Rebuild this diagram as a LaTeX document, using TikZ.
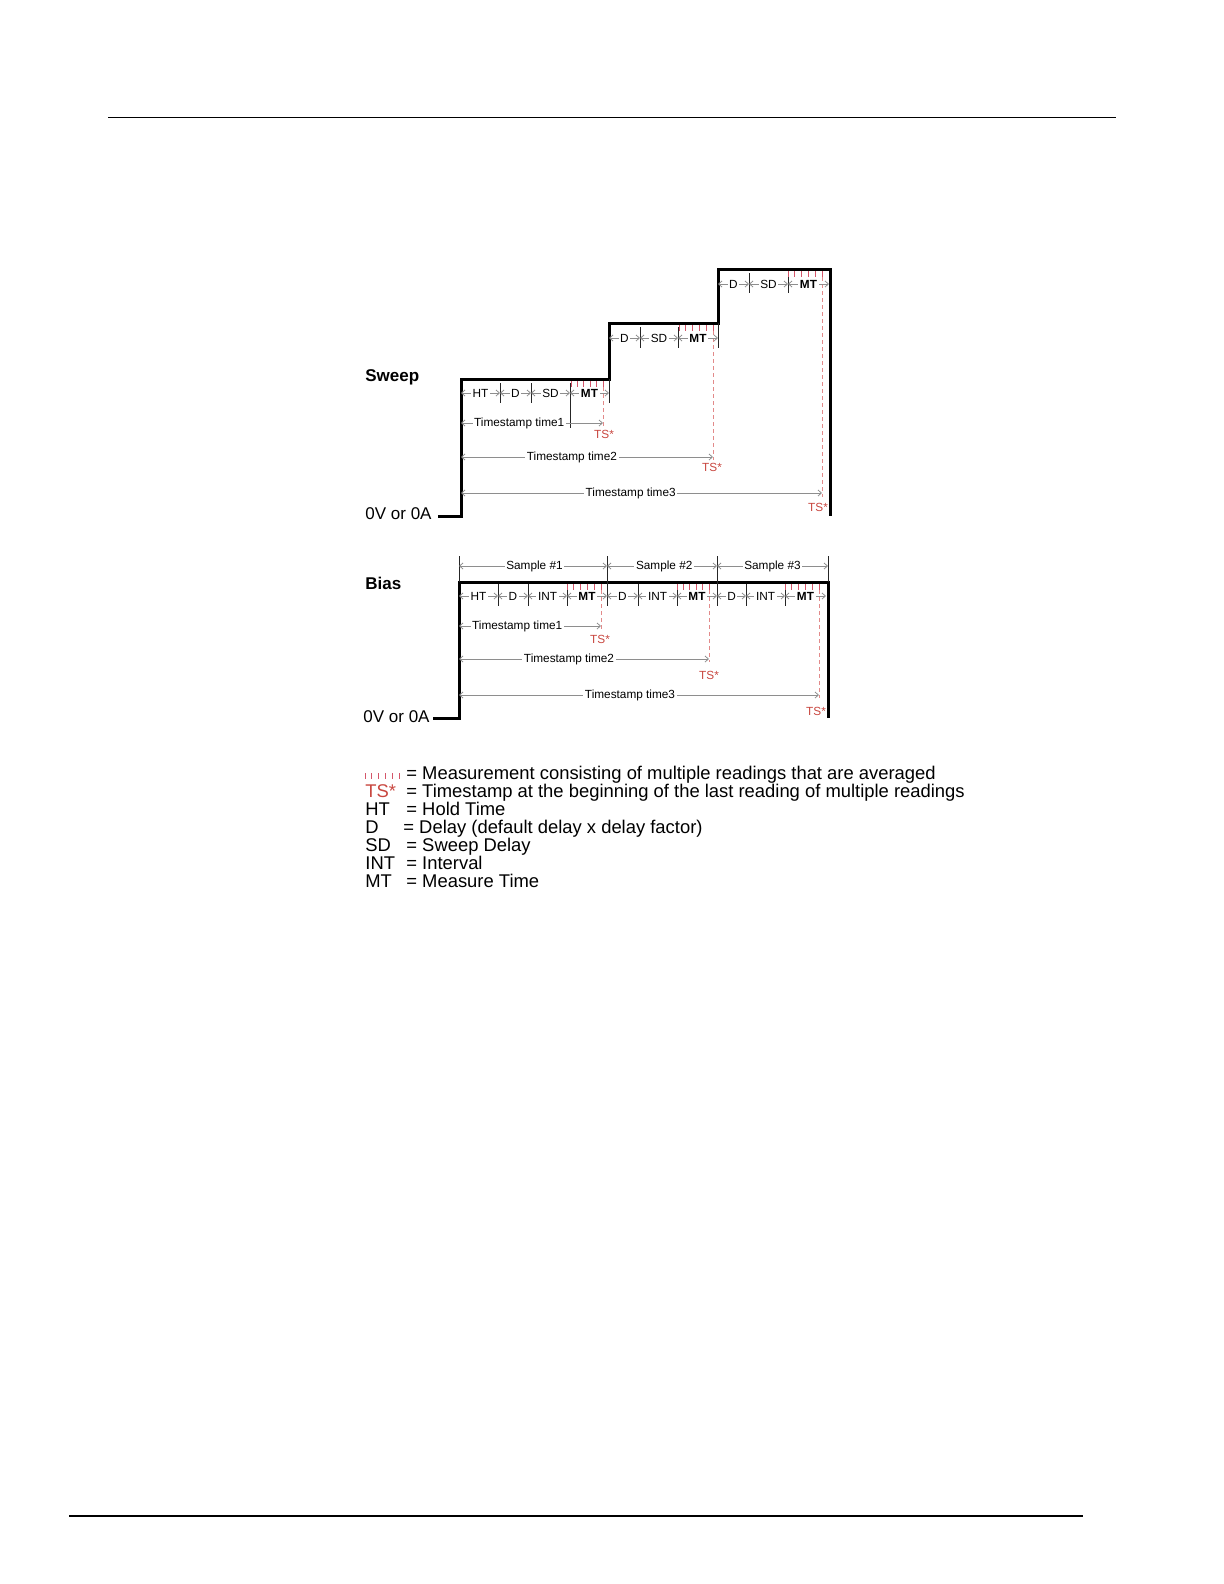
\documentclass[tikz,border=0pt]{standalone}
\usepackage{fontspec}
\setmainfont{Liberation Sans}
\usetikzlibrary{arrows.meta}
\definecolor{cred}{HTML}{C8463F}
\definecolor{cpink}{HTML}{D4566A}
\definecolor{cdash}{HTML}{E28A8A}
\definecolor{cgrey}{HTML}{8E8E8E}
\tikzset{
  every picture/.style={font=\fontsize{5.9}{7}\selectfont},
  stepline/.style={line width=1.5pt, line join=miter},
  tickln/.style={line width=0.45pt, draw=black!85},
  dimarrow/.style={{Straight Barb[length=1.7pt,width=3pt]}-{Straight Barb[length=1.7pt,width=3pt]}, draw=cgrey, line width=0.4pt},
  lbl/.style={fill=white, inner sep=0.8pt},
  mtick/.style={draw=cpink, line width=0.5pt},
  tsline/.style={draw=cdash, dash pattern=on 2pt off 1.5pt, line width=0.4pt},
  tslbl/.style={text=cred, inner sep=0pt},
  head/.style={font=\fontsize{8.5}{10}\selectfont\bfseries, anchor=west, inner sep=0pt},
  zero/.style={font=\fontsize{8.5}{10}\selectfont, anchor=east, inner sep=0pt},
  legtxt/.style={font=\fontsize{9.2}{10}\selectfont, anchor=base west, inner sep=0pt},
}

\begin{document}
\begin{tikzpicture}[x=0.5pt, y=-0.5pt]
  \useasboundingbox (0,0) rectangle (1224,1584);
  \draw[line width=0.5pt] (108,118) -- (1116,118);
  \draw[line width=1pt] (69,1516) -- (1083,1516);

  % sweep
  \node[head] (sweep) at (365,377) {Sweep};
  \node[zero] (zs) at (432,514) {0V or 0A};
  \draw[stepline] (438,516) -- (461,516) -- (461,379) -- (609,379) -- (609,323)
    -- (718,323) -- (718,269) -- (830,269) -- (830,516);
  \draw[tickln] (500,383) -- (500,403) (531,383) -- (531,403) (570,383) -- (570,428)
    (609,379) -- (609,403);
  \draw[tickln] (640,327) -- (640,348) (678,327) -- (678,348) (718,323) -- (718,348);
  \draw[tickln] (749,273) -- (749,293) (788,273) -- (788,293);
  \foreach \i in {0,...,5} {
    \draw[mtick] ({571+\i*6.4},381) -- ++(0,6);
    \draw[mtick] ({679+\i*6.8},325) -- ++(0,6);
    \draw[mtick] ({788+\i*6.8},271) -- ++(0,6);
  }
  \draw[tsline] (603,387) -- (603,426);
  \draw[tsline] (713,331) -- (713,460);
  \draw[tsline] (822,277) -- (822,497);
  \draw[dimarrow] (461,393) -- node[lbl] (ht1) {HT} (500,393);
  \draw[dimarrow] (500,393) -- node[lbl] (d1) {D} (531,393);
  \draw[dimarrow] (531,393) -- node[lbl] (sd1) {SD} (570,393);
  \draw[dimarrow] (570,393) -- node[lbl] (mt1) {\bfseries MT} (609,393);
  \draw[dimarrow] (609,338) -- node[lbl] (d2) {D} (640,338);
  \draw[dimarrow] (640,338) -- node[lbl] (sd2) {SD} (678,338);
  \draw[dimarrow] (678,338) -- node[lbl] (mt2) {\bfseries MT} (718,338);
  \draw[dimarrow] (718,284) -- node[lbl] (d3) {D} (749,284);
  \draw[dimarrow] (749,284) -- node[lbl] (sd3) {SD} (788,284);
  \draw[dimarrow] (788,284) -- node[lbl] (mt3) {\bfseries MT} (829,284);
  \draw[dimarrow] (461,423) -- node[lbl, pos=0.41] (tst1) {Timestamp time1} (603,423);
  \draw[dimarrow] (461,457) -- node[lbl, pos=0.44] (tst2) {Timestamp time2} (713,457);
  \draw[dimarrow] (461,493) -- node[lbl, pos=0.47] (tst3) {Timestamp time3} (822,493);
  \node[tslbl] (ts1) at (604,434) {TS*};
  \node[tslbl] (ts2) at (712,467) {TS*};
  \node[tslbl] (ts3) at (818,507) {TS*};

  % bias
  \node[head] (bias) at (365,583) {Bias};
  \node[zero] (zb) at (430,717) {0V or 0A};
  \draw[stepline] (433,718) -- (459,718) -- (459,582) -- (828,582) -- (828,718);
  \draw[tickln] (459,556) -- (459,582) (607,556) -- (607,606) (717,556) -- (717,606)
    (828,556) -- (828,582);
  \foreach \x in {498,528,567,638,677,746,785}
    \draw[tickln] (\x,584) -- (\x,606);
  \foreach \i in {0,...,5} {
    \draw[mtick] ({567+\i*6.8},584) -- ++(0,6);
    \draw[mtick] ({677+\i*6.4},584) -- ++(0,6);
    \draw[mtick] ({785+\i*6.8},584) -- ++(0,6);
  }
  \draw[tsline] (601,590) -- (601,629);
  \draw[tsline] (709,590) -- (709,662);
  \draw[tsline] (819,590) -- (819,698);
  \draw[dimarrow] (459,566) -- node[lbl, pos=0.51] (s1) {Sample \#1} (607,566);
  \draw[dimarrow] (607,566) -- node[lbl, pos=0.52] (s2) {Sample \#2} (717,566);
  \draw[dimarrow] (717,566) -- node[lbl] (s3) {Sample \#3} (828,566);
  \draw[dimarrow] (459,596) -- node[lbl] (bht) {HT} (498,596);
  \draw[dimarrow] (498,596) -- node[lbl] (bd1) {D} (528,596);
  \draw[dimarrow] (528,596) -- node[lbl] (bint1) {INT} (567,596);
  \draw[dimarrow] (567,596) -- node[lbl] (bmt1) {\bfseries MT} (607,596);
  \draw[dimarrow] (607,596) -- node[lbl] (bd2) {D} (638,596);
  \draw[dimarrow] (638,596) -- node[lbl] (bint2) {INT} (677,596);
  \draw[dimarrow] (677,596) -- node[lbl] (bmt2) {\bfseries MT} (717,596);
  \draw[dimarrow] (717,596) -- node[lbl] (bd3) {D} (746,596);
  \draw[dimarrow] (746,596) -- node[lbl] (bint3) {INT} (785,596);
  \draw[dimarrow] (785,596) -- node[lbl] (bmt3) {\bfseries MT} (826,596);
  \draw[dimarrow] (459,626) -- node[lbl, pos=0.41] (btst1) {Timestamp time1} (601,626);
  \draw[dimarrow] (459,659) -- node[lbl, pos=0.44] (btst2) {Timestamp time2} (709,659);
  \draw[dimarrow] (459,695) -- node[lbl, pos=0.475] (btst3) {Timestamp time3} (819,695);
  \node[tslbl] (bts1) at (600,639) {TS*};
  \node[tslbl] (bts2) at (709,675) {TS*};
  \node[tslbl] (bts3) at (816,711) {TS*};

  % legend
  \foreach \i in {0,...,5}
    \draw[mtick] ({365+\i*6.8},773) -- ++(0,6);
  \node[legtxt] (l1) at (406,779) {= Measurement consisting of multiple readings that are averaged};
  \node[legtxt, text=cred] (k2) at (365,797) {TS*};
  \node[legtxt] (l2) at (406,797) {= Timestamp at the beginning of the last reading of multiple readings};
  \node[legtxt] (k3) at (365,815) {HT};
  \node[legtxt] (l3) at (406,815) {= Hold Time};
  \node[legtxt] (k4) at (365,833) {D};
  \node[legtxt] (l4) at (403,833) {= Delay (default delay x delay factor)};
  \node[legtxt] (k5) at (365,851) {SD};
  \node[legtxt] (l5) at (406,851) {= Sweep Delay};
  \node[legtxt] (k6) at (365,869) {INT};
  \node[legtxt] (l6) at (406,869) {= Interval};
  \node[legtxt] (k7) at (365,887) {MT};
  \node[legtxt] (l7) at (406,887) {= Measure Time};
\end{tikzpicture}
\end{document}
